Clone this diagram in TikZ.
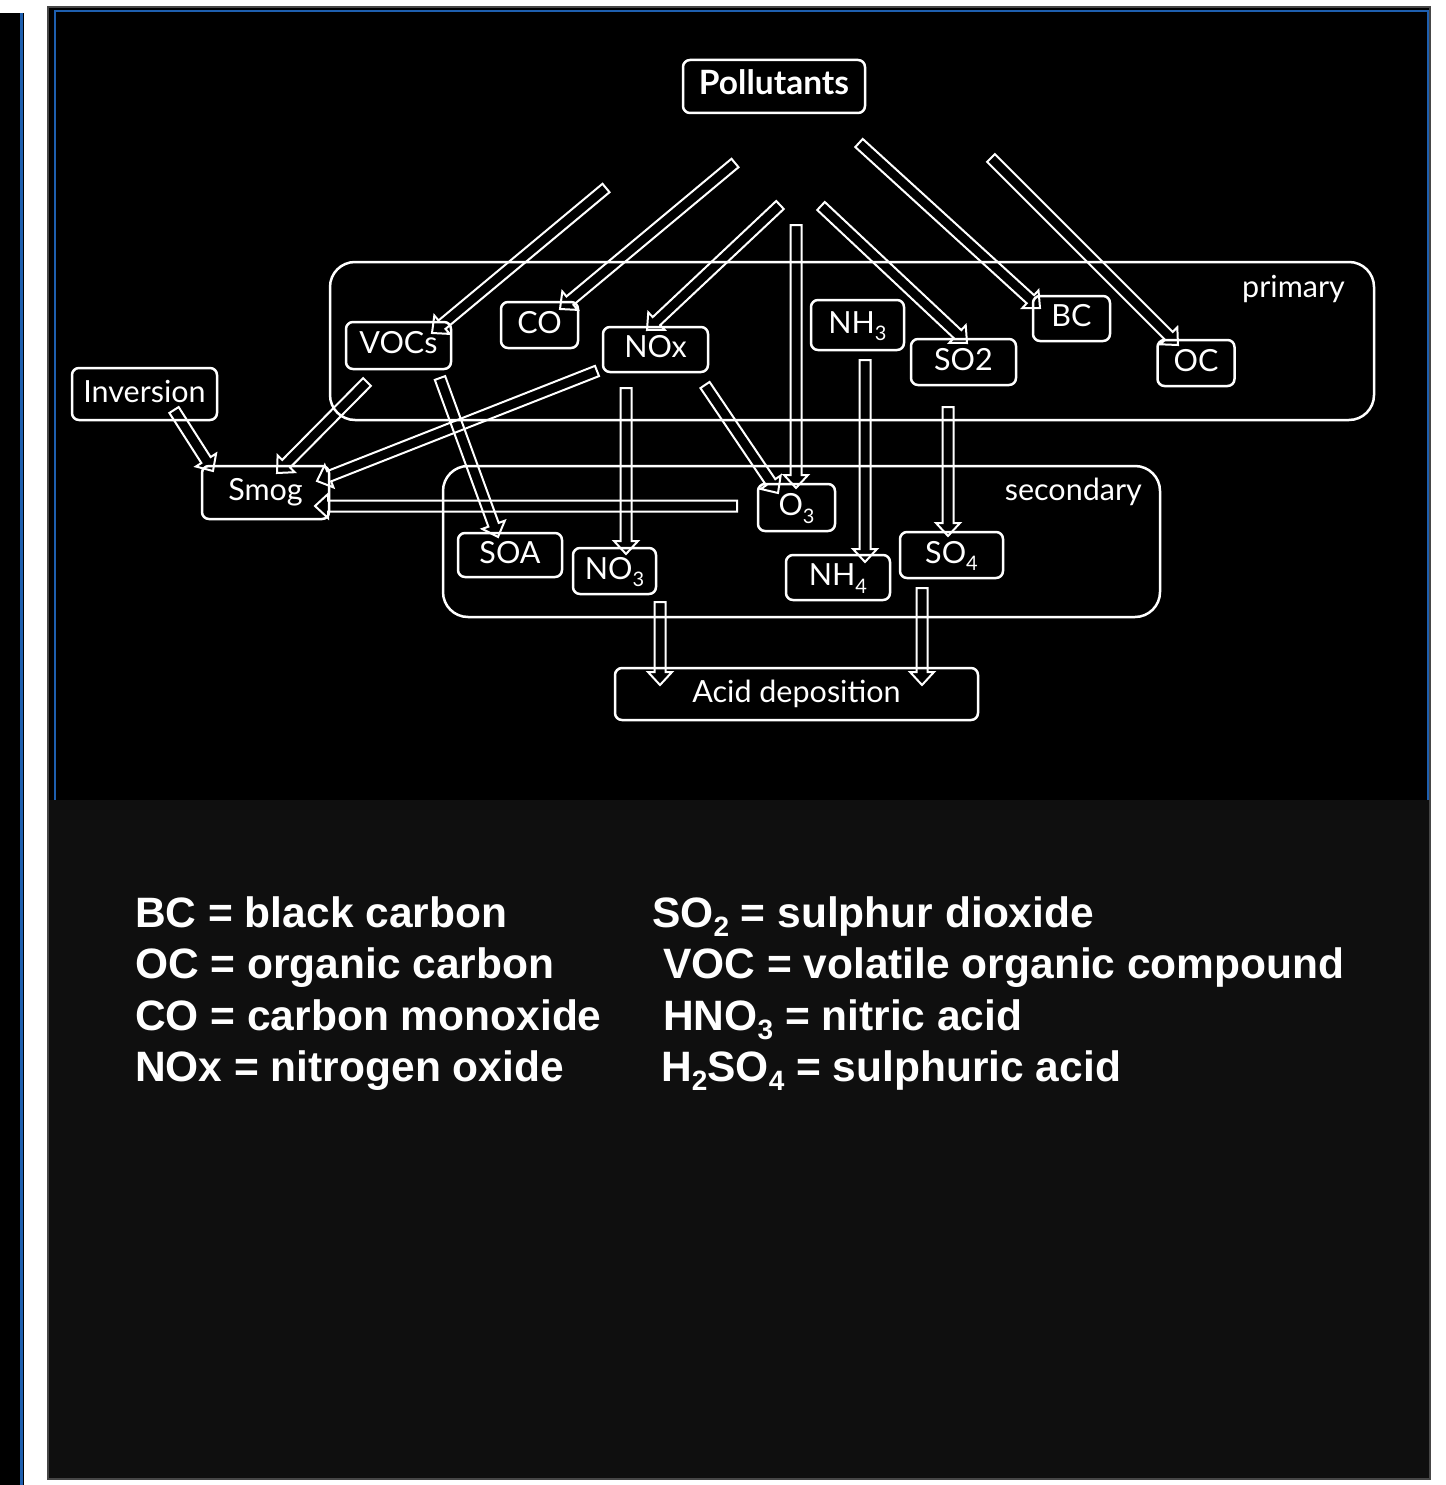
\documentclass[tikz,border=0pt]{standalone}
\usepackage{fontspec}
\setmainfont{Lato}
\newfontfamily\legendfont{Liberation Sans}
\usetikzlibrary{calc}
\definecolor{panelgray}{HTML}{0F0F0F}
\definecolor{frameblue}{RGB}{30,95,175}
\definecolor{edgegray}{RGB}{70,70,70}
\newcommand{\blockarrow}[2]{%
  \coordinate (hb) at ($(#2)!13pt!(#1)$);
  \draw[barrow] ($(#1)!5.5pt!90:(#2)$) -- ($(hb)!5.5pt!90:(#2)$) -- ($(hb)!12pt!90:(#2)$) -- (#2)
     -- ($(hb)!12pt!-90:(#2)$) -- ($(hb)!5.5pt!-90:(#2)$) -- ($(#1)!5.5pt!-90:(#2)$) -- cycle;
}
\newcommand{\lsub}[1]{\raisebox{-0.22em}{\fontsize{28}{28}\selectfont #1}}
\newcommand{\dsub}[1]{\raisebox{-0.25em}{\fontsize{20}{20}\selectfont #1}}
\tikzset{
  barrow/.style={draw=white, line width=2pt, line join=miter},
  pbox/.style={draw=white, line width=2.5pt, rounded corners=7pt, inner sep=0pt,
     text=white, font=\fontsize{30.5}{35}\selectfont, text height=22pt, text depth=6pt},
  groupbox/.style={draw=white, line width=2.5pt, rounded corners=25pt},
  grouplabel/.style={text=white, font=\fontsize{30.5}{35}\selectfont, inner sep=0pt},
  legend/.style={text=white, font=\legendfont\bfseries\fontsize{42.5}{51}\selectfont, inner sep=0pt, anchor=base west}
}
\begin{document}
\begin{tikzpicture}[x=1pt,y=-1pt]
\useasboundingbox (0,0) rectangle (1445,1485);
% backgrounds
\fill[white] (0,0) rectangle (1445,1485);
\fill[black] (0,13) rectangle (24,1485);
\draw[frameblue, line width=3pt] (21.5,13) -- (21.5,1485);
\fill[panelgray] (48,7) rectangle (1430,1479);
\draw[edgegray, line width=1.5pt] (48,7) rectangle (1430,1479);
\fill[black] (49,8) rectangle (1429,800);
\draw[frameblue, line width=2pt] (55,800) -- (55,11) -- (1428,11) -- (1428,800);

% group boxes
\draw[groupbox] (330,262) rectangle (1374,420);
\draw[groupbox] (443,466) rectangle (1160,617);
\node[grouplabel, anchor=base east] (lprim) at (1345,297) {primary};
\node[grouplabel, anchor=base east] (lsec) at (1142,500) {secondary};

% nodes
\node[pbox, minimum width=182pt, minimum height=53pt, font=\bfseries\fontsize{33.5}{38}\selectfont] (poll) at (774,86.5) {Pollutants};
\node[pbox, minimum width=105pt, minimum height=47pt] (vocs) at (398.5,345.5) {VOCs};
\node[pbox, minimum width=77pt, minimum height=46pt] (co) at (539.5,325) {CO};
\node[pbox, minimum width=105pt, minimum height=45pt] (nox) at (655.5,349.5) {NOx};
\node[pbox, minimum width=93pt, minimum height=50pt] (nh3) at (857.5,325) {NH\dsub{3}};
\node[pbox, minimum width=105pt, minimum height=46pt] (so2) at (963.5,362) {SO2};
\node[pbox, minimum width=77pt, minimum height=45pt] (bc) at (1071.5,318.5) {BC};
\node[pbox, minimum width=77pt, minimum height=46pt] (oc) at (1196,363) {OC};
\node[pbox, minimum width=145pt, minimum height=52pt] (inv) at (144.5,394) {Inversion};
\node[pbox, minimum width=127pt, minimum height=53pt] (smog) at (265.5,492.5) {Smog\hspace{22pt}};
\node[pbox, minimum width=77pt, minimum height=47pt] (o3) at (796.5,507.5) {O\dsub{3}};
\node[pbox, minimum width=104pt, minimum height=44pt] (soa) at (510,555) {SOA};
\node[pbox, minimum width=83pt, minimum height=46pt] (no3) at (614.5,571) {NO\dsub{3}};
\node[pbox, minimum width=104pt, minimum height=45pt] (nh4) at (838,577.5) {NH\dsub{4}};
\node[pbox, minimum width=103pt, minimum height=46pt] (so4) at (951.5,555) {SO\dsub{4}};
\node[pbox, minimum width=363pt, minimum height=52pt] (acid) at (796.5,694) {Acid deposition\hspace{8pt}};

% arrow end points
\coordinate (t1) at (606,188);  \coordinate (h1) at (432,333);
\coordinate (t2) at (735,163);  \coordinate (h2) at (560,309);
\coordinate (t3) at (780,205);  \coordinate (h3) at (647,330);
\coordinate (t4) at (796,225);  \coordinate (h4) at (796,488);
\coordinate (t5) at (821,206);  \coordinate (h5) at (967,343);
\coordinate (t6) at (859,143);  \coordinate (h6) at (1040,308);
\coordinate (t7) at (991,158);  \coordinate (h7) at (1178,345);
\coordinate (t8) at (174,410);  \coordinate (h8) at (213,471);
\coordinate (t9) at (367,382);  \coordinate (h9) at (277,473);
\coordinate (t10) at (597,371); \coordinate (h10) at (317,481);
\coordinate (t11) at (737,506); \coordinate (h11) at (315,506);
\coordinate (t12) at (440,378); \coordinate (h12) at (498,537);
\coordinate (t13) at (626,388); \coordinate (h13) at (626,554);
\coordinate (t14) at (705,385); \coordinate (h14) at (778,493);
\coordinate (t15) at (865,360); \coordinate (h15) at (865,562);
\coordinate (t16) at (948,407); \coordinate (h16) at (948,536);
\coordinate (t17) at (660,602); \coordinate (h17) at (660,685);
\coordinate (t18) at (922,588); \coordinate (h18) at (922,685);

\blockarrow{t1}{h1}
\blockarrow{t2}{h2}
\blockarrow{t3}{h3}
\blockarrow{t4}{h4}
\blockarrow{t5}{h5}
\blockarrow{t6}{h6}
\blockarrow{t7}{h7}
\blockarrow{t8}{h8}
\blockarrow{t9}{h9}
\blockarrow{t10}{h10}
\blockarrow{t11}{h11}
\blockarrow{t12}{h12}
\blockarrow{t13}{h13}
\blockarrow{t14}{h14}
\blockarrow{t15}{h15}
\blockarrow{t16}{h16}
\blockarrow{t17}{h17}
\blockarrow{t18}{h18}

% legend
\node[legend] (l1) at (135,927) {BC = black carbon};
\node[legend] (l2) at (135,978) {OC = organic carbon};
\node[legend] (l3) at (135,1030) {CO = carbon monoxide};
\node[legend] (l4) at (135,1081) {NOx = nitrogen oxide};
\node[legend] (r1) at (652,927) {SO\lsub{2} = sulphur dioxide};
\node[legend] (r2) at (663,978) {VOC = volatile organic compound};
\node[legend] (r3) at (663,1030) {HNO\lsub{3} = nitric acid};
\node[legend] (r4) at (661,1081) {H\lsub{2}SO\lsub{4} = sulphuric acid};
\end{tikzpicture}
\end{document}
